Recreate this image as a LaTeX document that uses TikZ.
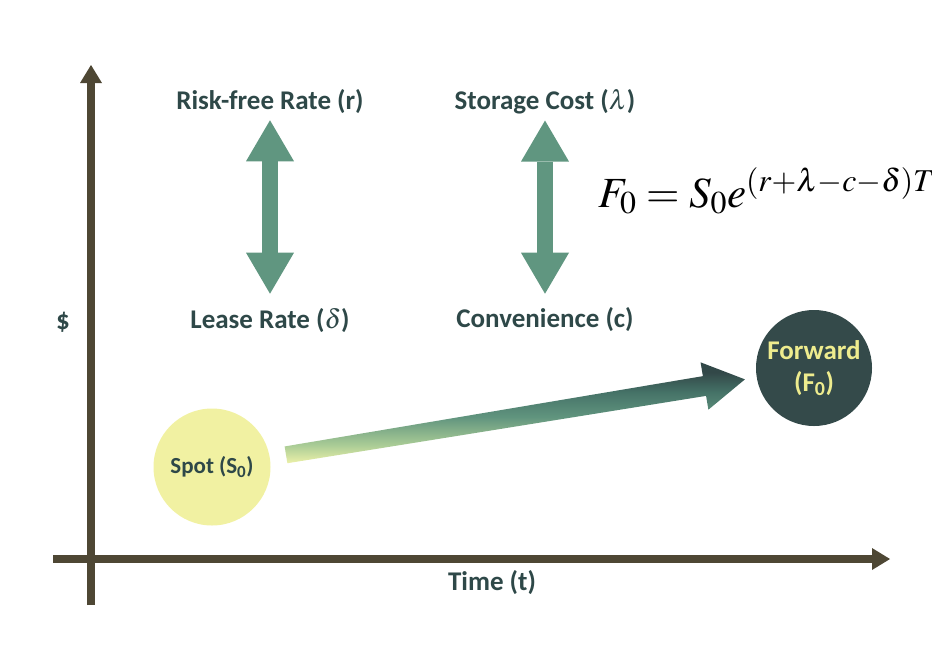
\documentclass[tikz,border=0pt]{standalone}
\usepackage{mathptmx}
\usepackage{fontspec}
\setmainfont{Carlito}
\usepackage{xcolor}
\usepackage{tikz}
\usetikzlibrary{arrows.meta,positioning,calc}

\definecolor{axisbrown}{RGB}{78,71,52}
\definecolor{tealarrow}{RGB}{96,150,128}
\definecolor{labeltext}{RGB}{46,72,72}
\definecolor{spotyellow}{RGB}{241,241,162}
\definecolor{fwddark}{RGB}{52,74,74}
\definecolor{fwdtext}{RGB}{238,236,142}
\definecolor{gradlight}{RGB}{236,241,168}
\definecolor{gradgreen}{RGB}{170,204,150}
\definecolor{gradteal}{RGB}{96,148,126}
\definecolor{graddeep}{RGB}{70,115,104}
\definecolor{graddark}{RGB}{50,72,72}

\pgfdeclareverticalshading{fwdshade}{100bp}{color(0bp)=(gradlight); color(25bp)=(gradlight); color(34bp)=(gradgreen); color(48bp)=(gradteal); color(60bp)=(graddeep); color(70bp)=(graddark); color(100bp)=(graddark)}

\begin{document}
\begin{tikzpicture}[
    x=1pt, y=-1pt,
    lbl/.style={text=labeltext, font=\fontsize{27}{31}\selectfont\bfseries, inner sep=0pt},
    axis/.style={line width=8pt, draw=axisbrown, -{Triangle[width=22pt,length=18pt,line width=0pt]}},
    dblarrow/.style={line width=16pt, draw=tealarrow, {Triangle[width=48pt,length=41pt,line width=0pt]}-{Triangle[width=48pt,length=41pt,line width=0pt]}},
    spotnode/.style={circle, fill=spotyellow, text=labeltext, minimum size=117pt, inner sep=0pt, font=\fontsize{23}{27}\selectfont\bfseries},
    fwdnode/.style={circle, fill=fwddark, text=fwdtext, minimum size=116pt, inner sep=0pt, align=center, font=\fontsize{27}{32}\selectfont\bfseries},
    gradarrow/.style={shading=fwdshade, shading angle=0}
]
    \useasboundingbox (0,0) rectangle (932,654);

    % axes
    \coordinate (ybot) at (91,605);
    \coordinate (ytop) at (91,65);
    \coordinate (xleft) at (53,559);
    \coordinate (xright) at (890,559);
    \draw [axis] (ybot) -- (ytop);
    \draw [axis] (xleft) -- (xright);
    \node [lbl] (dollar) at (63,322) {\$};
    \node [lbl] (time) at (492,583) {Time (t)};

    % rate labels
    \node [lbl] (rf) at (270,102) {Risk-free Rate (r)};
    \node [lbl] (lease) at (270,320) {Lease Rate ($\delta$)};
    \node [lbl] (storage) at (545,102) {Storage Cost ($\lambda$)};
    \node [lbl] (conv) at (545,320) {Convenience (c)};

    \draw [dblarrow, shorten <=6pt, shorten >=14pt] (rf.south) -- (lease.north);
    \draw [dblarrow, shorten <=6pt, shorten >=14pt] (storage.south) -- (conv.north);

    % formula
    \node [anchor=base west, inner sep=0pt, font=\fontsize{43}{52}\selectfont] (formula) at (598,207) {$F_0 = S_0 e^{(r+\lambda-c-\delta)T}$};

    % spot and forward
    \node [spotnode] (spot) at (212,467) {Spot (S\textsubscript{0})};
    \node [fwdnode] (fwd) at (814,368) {Forward\\(F\textsubscript{0})};

    \coordinate (tail) at ($(spot)!75pt!(fwd)$);
    \coordinate (tip) at ($(fwd)!70pt!(spot)$);
    \coordinate (hb) at ($(tip)!41pt!(tail)$);
    \shade [gradarrow] ($(tail)!8.5pt!90:(tip)$) -- ($(hb)!10pt!90:(tip)$) -- ($(hb)!24pt!90:(tip)$) -- (tip)
        -- ($(hb)!24pt!-90:(tip)$) -- ($(hb)!10pt!-90:(tip)$) -- ($(tail)!8.5pt!-90:(tip)$) -- cycle;
\end{tikzpicture}
\end{document}
